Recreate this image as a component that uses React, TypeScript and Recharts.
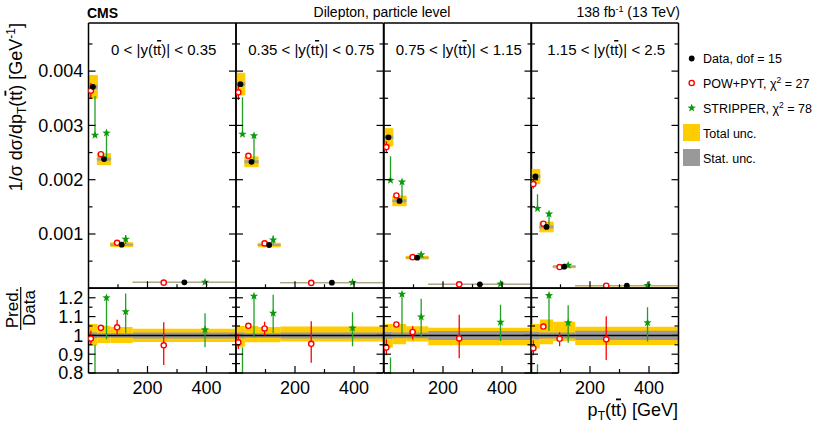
import React from 'react';
import { ComposedChart, XAxis, YAxis, Scatter, ReferenceArea, ReferenceLine } from 'recharts';

const FONT = '"Liberation Sans", Arial, Helvetica, sans-serif';

// rapidity ranges of the four panels
const rapLow = ['0', '0.35', '0.75', '1.15'];
const rapHigh = ['0.35', '0.75', '1.15', '2.5'];

// pT(tt) bins [GeV]
const binLow = [0, 30, 75, 150];
const binHigh = [30, 75, 150, 500];
const dataX = [15, 52.5, 112.5, 325];
const powX = [8, 42, 97, 255];
const stripX = [22, 61, 126, 395];

// ticks
const xMajorTicks = [200, 400];
const xAllTicks = [100, 200, 300, 400];
const topMajorTicks = [0.001, 0.002, 0.003, 0.004];
const topAllTicks = [0.0005, 0.001, 0.0015, 0.002, 0.0025, 0.003, 0.0035, 0.004, 0.0045];
const ratioMajorTicks = [0.8, 0.9, 1, 1.1, 1.2];
const ratioAllTicks = [0.8, 0.85, 0.9, 0.95, 1, 1.05, 1.1, 1.15, 1.2, 1.25];

// normalised cross section, per panel
const dataXsec = [
  [0.00371, 0.00238, 0.000803, 0.00011],
  [0.00376, 0.00233, 0.000797, 0.000104],
  [0.00278, 0.00161, 0.000564, 0.0000737],
  [0.00206, 0.00113, 0.000398, 0.0000479],
];
const dataTotUnc = [
  [0.00021, 0.0001, 0.000036, 0.000004],
  [0.0002, 0.00009, 0.000033, 0.000004],
  [0.00016, 0.00009, 0.000024, 0.0000035],
  [0.00013, 0.00009, 0.00002, 0.0000025],
];
const dataStatUnc = [
  [0.00003, 0.00002, 0.000009, 0.0000015],
  [0.00003, 0.00002, 0.000009, 0.0000015],
  [0.00003, 0.00002, 0.000008, 0.0000018],
  [0.00003, 0.00002, 0.000007, 0.0000012],
];
const powXsec = [
  [0.00364, 0.00247, 0.000838, 0.000104],
  [0.00361, 0.00244, 0.000827, 0.0000993],
  [0.0026, 0.00171, 0.000574, 0.0000725],
  [0.00192, 0.00119, 0.000391, 0.0000469],
];
const powXsecErr = [
  [[0.00014, 0.00014], [0.00003, 0.00003], [0.000033, 0.000033], [0.000012, 0.000012]],
  [[0.00014, 0.00014], [0.00003, 0.00003], [0.00003, 0.00003], [0.000012, 0.000012]],
  [[0.00011, 0.00011], [0.00003, 0.00003], [0.000024, 0.000024], [0.000008, 0.000008]],
  [[0.00008, 0.00008], [0.00002, 0.00002], [0.000016, 0.000016], [0.000005, 0.000005]],
];
const stripXsec = [
  [0.00282, 0.00286, 0.000904, 0.000113],
  [0.00284, 0.00281, 0.000891, 0.000108],
  [0.00199, 0.00196, 0.00062, 0.0000789],
  [0.00147, 0.00137, 0.000425, 0.0000511],
];
const stripXsecErr = [
  [[0, 0.00072], [0.00052, 0], [0.00009, 0.000078], [0.00001, 0.00001]],
  [[0, 0.00068], [0.00048, 0], [0.00008, 0.00008], [0.00001, 0.000009]],
  [[0, 0.00044], [0.00031, 0], [0.00006, 0.000055], [0.000007, 0.000007]],
  [[0, 0.00026], [0.00021, 0], [0.00004, 0.00004], [0.000005, 0.000004]],
];

// ratio prediction / data
const powRatio = [
  [0.983, 1.04, 1.043, 0.947],
  [0.963, 1.051, 1.037, 0.955],
  [0.935, 1.058, 1.018, 0.984],
  [0.932, 1.047, 0.982, 0.979],
];
const powRatioErr = [
  [[0.032, 0.042], [0.01, 0.01], [0.04, 0.04], [0.105, 0.123]],
  [[0.035, 0.045], [0.01, 0.01], [0.035, 0.035], [0.1, 0.12]],
  [[0.04, 0.044], [0.01, 0.01], [0.04, 0.03], [0.105, 0.126]],
  [[0.037, 0.042], [0.01, 0.01], [0.04, 0.035], [0.11, 0.123]],
];
const stripRatio = [
  [0.76, 1.2, 1.126, 1.03],
  [0.755, 1.209, 1.118, 1.039],
  [0.717, 1.219, 1.098, 1.07],
  [0.717, 1.212, 1.067, 1.067],
];
const stripRatioErr = [
  [[0, 0.19], [0.22, 0], [0.113, 0.097], [0.093, 0.088]],
  [[0, 0.182], [0.219, 0], [0.105, 0.098], [0.097, 0.084]],
  [[0, 0.165], [0.214, 0], [0.107, 0.097], [0.1, 0.093]],
  [[0, 0.13], [0.189, 0], [0.106, 0.093], [0.1, 0.082]],
];
const ratioTotUnc = [
  [[0.054, 0.061], [0.04, 0.051], [0.04, 0.044], [0.035, 0.035]],
  [[0.06, 0.05], [0.037, 0.05], [0.037, 0.044], [0.032, 0.047]],
  [[0.065, 0.061], [0.047, 0.061], [0.033, 0.049], [0.053, 0.04]],
  [[0.068, 0.061], [0.047, 0.084], [0.03, 0.072], [0.051, 0.046]],
];
const ratioStatUnc = [
  [0.015, 0.012, 0.012, 0.016],
  [0.015, 0.012, 0.012, 0.016],
  [0.018, 0.015, 0.015, 0.024],
  [0.02, 0.016, 0.016, 0.025],
];

// layout
const PLOT_X0 = 88.5;
const PW = 147.5;
const TOP_Y = 23;
const TOP_H = 265.3;
const RAT_Y = 288.3;
const RAT_H = 85;
const PAD = 3;
const LAB_H = 40;
const X_DOMAIN = [0, 500];
const TOP_DOMAIN = [0, 0.004886];
const RAT_DOMAIN = [0.8, 1.252];

const YELLOW = '#ffcc00';
const GRAY = '#999999';
const RED = '#ff0000';
const GREEN = '#0a9a0a';
const GREEN_BAR = '#22a022';

const makeDot = (minY: number) => (props: any) =>
  props.cx == null || props.payload.y < minY ? null : <circle cx={props.cx} cy={props.cy} r={2.9} fill="#000" />;
const makeOpenCircle = (minY: number) => (props: any) =>
  props.cx == null || props.payload.y < minY ? null : (
    <circle cx={props.cx} cy={props.cy} r={2.6} fill="#fff" stroke={RED} strokeWidth={1.4} />
  );
function starPoints(cx: number, cy: number, R: number, r: number) {
  const pts: string[] = [];
  for (let k = 0; k < 10; k++) {
    const a = -Math.PI / 2 + (k * Math.PI) / 5;
    const rr = k % 2 === 0 ? R : r;
    pts.push(`${cx + rr * Math.cos(a)},${cy + rr * Math.sin(a)}`);
  }
  return pts.join(' ');
}
const makeStar = (minY: number) => (props: any) =>
  props.cx == null || props.payload.y < minY ? null : (
    <polygon points={starPoints(props.cx, props.cy, 4.4, 1.8)} fill={GREEN} />
  );

// inward tick marks (major long, minor short), optional labels
function makeTick(side: string, majors: number[], label: boolean) {
  return (props: any) => {
    const { x, y, payload } = props;
    const v = payload.value;
    const major = majors.some((m) => Math.abs(m - v) < 1e-9);
    const len = major ? 7 : 4;
    let l: any;
    if (side === 'left') l = { x1: x, y1: y, x2: x + len, y2: y };
    else if (side === 'right') l = { x1: x, y1: y, x2: x - len, y2: y };
    else if (side === 'bottom') l = { x1: x, y1: y, x2: x, y2: y - len };
    else l = { x1: x, y1: y, x2: x, y2: y + len };
    let t: any = null;
    if (label && major) {
      if (side === 'left')
        t = <text x={x - 5.2} y={y} dy="0.355em" textAnchor="end" fontSize={18} fontFamily={FONT} fill="#000">{String(v)}</text>;
      else if (side === 'bottom')
        t = <text x={x} y={y + 8.7} dy="0.71em" textAnchor="middle" fontSize={18} fontFamily={FONT} fill="#000">{String(v)}</text>;
    }
    return (
      <g>
        <line {...l} stroke="#000" strokeWidth={1.2} />
        {t}
      </g>
    );
  };
}

function frameAxes(yDomain: number[], yTicks: number[], yMajors: number[], leftLabels: boolean, bottomLabels: boolean) {
  const axisLine = { stroke: '#000', strokeWidth: 1.5 };
  const c: any = { type: 'number', allowDataOverflow: true, interval: 0, mirror: true, tickLine: false, tickSize: 0, tickMargin: 0, axisLine };
  return [
    <XAxis key="xb" xAxisId="b" dataKey="x" orientation="bottom" domain={X_DOMAIN} ticks={xAllTicks} height={0.01} tick={makeTick('bottom', xMajorTicks, bottomLabels)} {...c} />,
    <XAxis key="xt" xAxisId="t" orientation="top" domain={X_DOMAIN} ticks={xAllTicks} height={0.01} tick={makeTick('top', xMajorTicks, false)} {...c} />,
    <YAxis key="yl" yAxisId="l" dataKey="y" orientation="left" domain={yDomain} ticks={yTicks} width={0.01} tick={makeTick('left', yMajors, leftLabels)} {...c} />,
    <YAxis key="yr" yAxisId="r" orientation="right" domain={yDomain} ticks={yTicks} width={0.01} tick={makeTick('right', yMajors, false)} {...c} />,
  ];
}

function errSegments(xs: number[], ys: number[], errs: number[][], color: string, keyp: string) {
  return xs.map((x, j) => (
    <ReferenceLine key={keyp + j} xAxisId="b" yAxisId="l"
      segment={[{ x, y: ys[j] - errs[j][0] }, { x, y: ys[j] + errs[j][1] }]}
      stroke={color} strokeWidth={1.3} ifOverflow="hidden" />
  ));
}

function TopPanel({ p }: { p: number }) {
  const first = p === 0;
  const left = first ? 0 : PLOT_X0 + p * PW - PAD;
  const width = first ? PLOT_X0 + PW + PAD : PW + 2 * PAD;
  const dataRows = binLow.map((_, j) => ({ x: dataX[j], y: dataXsec[p][j] }));
  const powRows = binLow.map((_, j) => ({ x: powX[j], y: powXsec[p][j] }));
  const stripRows = binLow.map((_, j) => ({ x: stripX[j], y: stripXsec[p][j] }));
  const minY = TOP_DOMAIN[0];
  return (
    <div style={{ position: 'absolute', left, top: TOP_Y - PAD }}>
      <ComposedChart width={width} height={TOP_H + 2 * PAD} margin={{ top: PAD, right: PAD, bottom: PAD, left: first ? PLOT_X0 : PAD }}>
        {frameAxes(TOP_DOMAIN, topAllTicks, topMajorTicks, first, false)}
        {binLow.map((_, j) => (
          <ReferenceArea key={'tot' + j} xAxisId="b" yAxisId="l" x1={binLow[j]} x2={binHigh[j]}
            y1={dataXsec[p][j] - dataTotUnc[p][j]} y2={dataXsec[p][j] + dataTotUnc[p][j]}
            fill={YELLOW} fillOpacity={1} stroke={YELLOW} strokeWidth={1} ifOverflow="hidden" />
        ))}
        {binLow.map((_, j) => (
          <ReferenceArea key={'stat' + j} xAxisId="b" yAxisId="l" x1={binLow[j]} x2={binHigh[j]}
            y1={dataXsec[p][j] - dataStatUnc[p][j]} y2={dataXsec[p][j] + dataStatUnc[p][j]}
            fill={GRAY} fillOpacity={0.9} stroke="#aca890" strokeWidth={1} ifOverflow="hidden" />
        ))}
        {errSegments(powX, powXsec[p], powXsecErr[p], RED, 'pe')}
        {errSegments(stripX, stripXsec[p], stripXsecErr[p], GREEN_BAR, 'se')}
        <Scatter data={powRows} xAxisId="b" yAxisId="l" dataKey="y" shape={makeOpenCircle(minY)} isAnimationActive={false} />
        <Scatter data={stripRows} xAxisId="b" yAxisId="l" dataKey="y" shape={makeStar(minY)} isAnimationActive={false} />
        <Scatter data={dataRows} xAxisId="b" yAxisId="l" dataKey="y" shape={makeDot(minY)} isAnimationActive={false} />
      </ComposedChart>
    </div>
  );
}

function RatioPanel({ p }: { p: number }) {
  const first = p === 0;
  const left = first ? 0 : PLOT_X0 + p * PW - PAD;
  const width = first ? PLOT_X0 + PW + PAD : PW + 2 * PAD;
  const powRows = binLow.map((_, j) => ({ x: powX[j], y: powRatio[p][j] }));
  const stripRows = binLow.map((_, j) => ({ x: stripX[j], y: stripRatio[p][j] }));
  const minY = RAT_DOMAIN[0];
  return (
    <div style={{ position: 'absolute', left, top: RAT_Y - PAD }}>
      <ComposedChart width={width} height={RAT_H + PAD + LAB_H} margin={{ top: PAD, right: PAD, bottom: LAB_H, left: first ? PLOT_X0 : PAD }}>
        {frameAxes(RAT_DOMAIN, ratioAllTicks, ratioMajorTicks, first, true)}
        {binLow.map((_, j) => (
          <ReferenceArea key={'tot' + j} xAxisId="b" yAxisId="l" x1={binLow[j]} x2={binHigh[j]}
            y1={1 - ratioTotUnc[p][j][0]} y2={1 + ratioTotUnc[p][j][1]}
            fill={YELLOW} fillOpacity={1} stroke="none" ifOverflow="hidden" />
        ))}
        {binLow.map((_, j) => (
          <ReferenceArea key={'stat' + j} xAxisId="b" yAxisId="l" x1={binLow[j]} x2={binHigh[j]}
            y1={1 - ratioStatUnc[p][j]} y2={1 + ratioStatUnc[p][j]}
            fill={GRAY} fillOpacity={1} stroke="none" ifOverflow="hidden" />
        ))}
        <ReferenceLine xAxisId="b" yAxisId="l" y={1} stroke="#000" strokeWidth={1.5} />
        {errSegments(powX, powRatio[p], powRatioErr[p], RED, 'pe')}
        {errSegments(stripX, stripRatio[p], stripRatioErr[p], GREEN_BAR, 'se')}
        <Scatter data={powRows} xAxisId="b" yAxisId="l" dataKey="y" shape={makeOpenCircle(minY)} isAnimationActive={false} />
        <Scatter data={stripRows} xAxisId="b" yAxisId="l" dataKey="y" shape={makeStar(minY)} isAnimationActive={false} />
      </ComposedChart>
    </div>
  );
}

const tbar = (s: string) => <tspan style={{ textDecoration: 'overline' }}>{s}</tspan>;

function Overlay() {
  const legendText = { fontSize: 12.5, fontFamily: FONT, fill: '#000' };
  return (
    <svg width={823} height={426} style={{ position: 'absolute', left: 0, top: 0, pointerEvents: 'none' }}>
      <text x={87} y={18.3} fontSize={14} fontWeight="bold" fontFamily={FONT}>CMS</text>
      <text x={382} y={16.5} fontSize={14} textAnchor="middle" fontFamily={FONT}>Dilepton, particle level</text>
      <text x={680} y={17} fontSize={14} textAnchor="end" fontFamily={FONT}>
        138 fb<tspan fontSize={9} dy={-5}>-1</tspan><tspan dy={5}> (13 TeV)</tspan>
      </text>
      {rapLow.map((lo, p) => (
        <text key={p} x={PLOT_X0 + p * PW + PW / 2 + 1.5} y={55} fontSize={15} textAnchor="middle" fontFamily={FONT}>
          {lo} {'<'} |y(t{tbar('t')})| {'<'} {rapHigh[p]}
        </text>
      ))}
      <text transform="translate(21.5,23) rotate(-90)" textAnchor="end" fontSize={18} fontFamily={FONT}>
        1/σ dσ/dp<tspan fontSize={12} dy={4}>T</tspan><tspan dy={-4}>(t</tspan>{tbar('t')}) [GeV<tspan fontSize={12} dy={-7}>-1</tspan><tspan dy={7}>]</tspan>
      </text>
      <text transform="translate(18.3,308) rotate(-90)" textAnchor="middle" fontSize={17} fontFamily={FONT}>Pred.</text>
      <line x1={20.7} y1={287} x2={20.7} y2={330} stroke="#000" strokeWidth={1.2} />
      <text transform="translate(35,308) rotate(-90)" textAnchor="middle" fontSize={17} fontFamily={FONT}>Data</text>
      <text x={678} y={415.5} textAnchor="end" fontSize={18} fontFamily={FONT}>
        p<tspan fontSize={12} dy={4}>T</tspan><tspan dy={-4}>(t</tspan>{tbar('t')}) [GeV]
      </text>
      <circle cx={691.7} cy={58.5} r={2.9} fill="#000" />
      <text x={703} y={63} {...legendText}>Data, dof = 15</text>
      <circle cx={691.7} cy={83} r={2.6} fill="#fff" stroke={RED} strokeWidth={1.4} />
      <text x={703} y={87.5} {...legendText}>POW+PYT, χ<tspan fontSize={8.5} dy={-5}>2</tspan><tspan dy={5}> = 27</tspan></text>
      <polygon points={starPoints(691.7, 108, 4.4, 1.8)} fill={GREEN} />
      <text x={703} y={112.5} {...legendText}>STRIPPER, χ<tspan fontSize={8.5} dy={-5}>2</tspan><tspan dy={5}> = 78</tspan></text>
      <rect x={683} y={124} width={17} height={17} fill={YELLOW} />
      <text x={703} y={137.5} {...legendText}>Total unc.</text>
      <rect x={683} y={149} width={17} height={17} fill={GRAY} />
      <text x={703} y={162.5} {...legendText}>Stat. unc.</text>
    </svg>
  );
}

export default function App() {
  return (
    <div style={{ position: 'absolute', left: 0, top: 0, width: 823, height: 426, background: '#fff', fontFamily: FONT }}>
      {[0, 1, 2, 3].map((p) => <TopPanel key={'t' + p} p={p} />)}
      {[0, 1, 2, 3].map((p) => <RatioPanel key={'r' + p} p={p} />)}
      <Overlay />
    </div>
  );
}
